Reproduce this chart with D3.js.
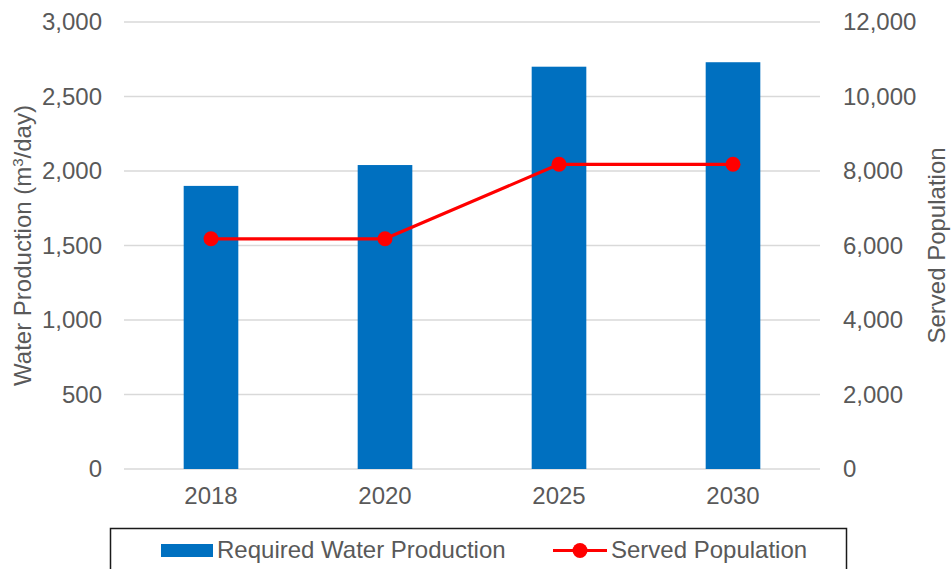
<!DOCTYPE html>
<html>
<head>
<meta charset="utf-8">
<script src="https://cdn.jsdelivr.net/npm/d3@7"></script>
<style>
  html, body { margin: 0; padding: 0; background: #fff; }
  svg { display: block; font-family: "Liberation Sans", Arial, sans-serif; }
</style>
</head>
<body>
<svg id="chart" width="951" height="569"></svg>
<script>
const categories = ["2018", "2020", "2025", "2030"];
const waterProduction = [1900, 2040, 2700, 2730];
const servedPopulation = [6180, 6180, 8180, 8180];
const leftTicks = [0, 500, 1000, 1500, 2000, 2500, 3000];
const rightTicks = [0, 2000, 4000, 6000, 8000, 10000, 12000];
const seriesNames = ["Required Water Production", "Served Population"];

const svg = d3.select("#chart");
const W = 951, H = 569;
const m = { left: 124, right: 131, top: 22, bottom: 100 };
const plotW = W - m.left - m.right;
const plotH = H - m.top - m.bottom;
const textColor = "#595959";
const fontSize = 24;
const fmt = d3.format(",");

const x = d3.scaleBand().domain(categories).range([m.left, m.left + plotW]).paddingInner(0.686).paddingOuter(0.343);
const yL = d3.scaleLinear().domain([0, 3000]).range([m.top + plotH, m.top]);
const yR = d3.scaleLinear().domain([0, 12000]).range([m.top + plotH, m.top]);

// gridlines
svg.append("g").selectAll("line").data(leftTicks).join("line")
  .attr("x1", m.left).attr("x2", m.left + plotW)
  .attr("y1", d => yL(d)).attr("y2", d => yL(d))
  .attr("stroke", "#d9d9d9").attr("stroke-width", 1.5);

// left axis
const gL = svg.append("g").attr("transform", `translate(${m.left},0)`)
  .call(d3.axisLeft(yL).tickValues(leftTicks).tickFormat(fmt).tickSize(0).tickPadding(22));
gL.select(".domain").remove();
gL.selectAll("text").attr("fill", textColor).attr("font-size", fontSize).attr("font-family", "Liberation Sans, Arial, sans-serif");

// right axis
const gR = svg.append("g").attr("transform", `translate(${m.left + plotW},0)`)
  .call(d3.axisRight(yR).tickValues(rightTicks).tickFormat(fmt).tickSize(0).tickPadding(23));
gR.select(".domain").remove();
gR.selectAll("text").attr("fill", textColor).attr("font-size", fontSize).attr("font-family", "Liberation Sans, Arial, sans-serif");

// x axis
const gX = svg.append("g").attr("transform", `translate(0,${m.top + plotH})`)
  .call(d3.axisBottom(x).tickSize(0).tickPadding(18));
gX.select(".domain").remove();
gX.selectAll("text").attr("fill", textColor).attr("font-size", fontSize).attr("font-family", "Liberation Sans, Arial, sans-serif");

// bars
svg.append("g").selectAll("rect").data(categories).join("rect")
  .attr("x", d => x(d)).attr("width", x.bandwidth())
  .attr("y", (d, i) => yL(waterProduction[i]))
  .attr("height", (d, i) => yL(0) - yL(waterProduction[i]))
  .attr("fill", "#0070C0");

// line
const line = d3.line().x((d, i) => x(categories[i]) + x.bandwidth() / 2).y(d => yR(d));
svg.append("path").datum(servedPopulation).attr("d", line)
  .attr("fill", "none").attr("stroke", "#FF0000").attr("stroke-width", 3.2).attr("stroke-linejoin", "round");
svg.append("g").selectAll("circle").data(servedPopulation).join("circle")
  .attr("cx", (d, i) => x(categories[i]) + x.bandwidth() / 2)
  .attr("cy", d => yR(d)).attr("r", 7.5).attr("fill", "#FF0000");

// axis titles
const lt = svg.append("text")
  .attr("transform", `translate(31,${m.top + plotH / 2}) rotate(-90)`)
  .attr("text-anchor", "middle").attr("fill", textColor).attr("font-size", fontSize);
lt.append("tspan").text("Water Production (m");
lt.append("tspan").text("3").attr("font-size", 15).attr("dy", -8);
lt.append("tspan").text("/day)").attr("dy", 8);

svg.append("text")
  .attr("transform", `translate(945,${m.top + plotH / 2}) rotate(-90)`)
  .attr("text-anchor", "middle").attr("fill", textColor).attr("font-size", fontSize)
  .text(seriesNames[1]);

// legend
const lg = svg.append("g");
lg.append("rect").attr("x", 110.5).attr("y", 528.5).attr("width", 736).attr("height", 60)
  .attr("fill", "#fff").attr("stroke", "#1a1a1a").attr("stroke-width", 1.5);
lg.append("rect").attr("x", 161).attr("y", 544).attr("width", 52).attr("height", 13).attr("fill", "#0070C0");
lg.append("text").attr("x", 217).attr("y", 558).attr("fill", textColor).attr("font-size", fontSize).text(seriesNames[0]);
lg.append("line").attr("x1", 553).attr("x2", 607).attr("y1", 550.5).attr("y2", 550.5)
  .attr("stroke", "#FF0000").attr("stroke-width", 3.2);
lg.append("circle").attr("cx", 580).attr("cy", 550.5).attr("r", 7.5).attr("fill", "#FF0000");
lg.append("text").attr("x", 611).attr("y", 558).attr("fill", textColor).attr("font-size", fontSize).text(seriesNames[1]);
</script>
</body>
</html>
